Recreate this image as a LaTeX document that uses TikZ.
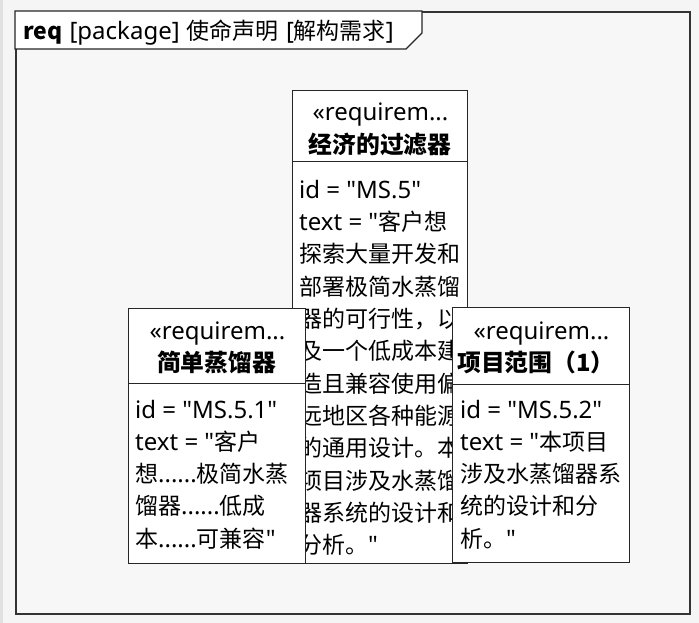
\documentclass[tikz,border=0pt]{standalone}
\usepackage{fontspec}
\setmainfont{Noto Sans CJK SC}[Ligatures=TeXOff]
\newfontfamily\latf{Noto Sans}[Ligatures=TeXOff]
\newcommand\latx[1]{{\latf\fontsize{24}{28}\selectfont #1}}
\newcommand\hlatx[1]{{\latf\fontsize{24}{26}\selectfont #1}}
\begin{document}
\begin{tikzpicture}[x=1pt,y=-1pt,
  reqbox/.style={draw=black!85,line width=1pt,fill=white,anchor=north west,inner sep=0pt},
  divline/.style={draw=black!85,line width=1pt},
  stereo/.style={anchor=base,inner sep=0pt,font=\fontsize{22}{26}\selectfont},
  rtitle/.style={anchor=base,inner sep=0pt,font=\fontsize{23.8}{26}\selectfont\bfseries},
  bodyline/.style={anchor=base west,inner sep=0pt,font=\fontsize{23}{28}\selectfont},
  hdr/.style={anchor=base west,inner sep=0pt,font=\fontsize{23}{26}\selectfont}]
\useasboundingbox (0,0) rectangle (699,623);
\fill[black!4] (0,0) rectangle (699,623);
\fill[black!12] (0,0) rectangle (3,623);
% outer frame
\node[draw=black!80,line width=1.6pt,fill=black!3,anchor=north west,minimum width=674pt,minimum height=602pt,inner sep=0pt] (frame) at (15,11) {};
% header tab
\coordinate (tabA) at (422,11);
\coordinate (tabB) at (422,33);
\coordinate (tabC) at (406,49);
\coordinate (tabD) at (15,49);
\filldraw[fill=white,draw=black!85,line width=1.2pt] (frame.north west) -- (tabA) -- (tabB) -- (tabC) -- (tabD) -- cycle;
\node[hdr] (hdrtext) at (23,39.5) {{\bfseries req}\hspace{2pt} \hlatx{[package]}\hspace{2pt} 使命声明\hspace{2pt} \hlatx{[}解构需求\hlatx{]}};

% MS.5 box
\node[reqbox,minimum width=175pt,minimum height=473pt] (ms5) at (292,90) {};
\draw[divline] ([yshift=-72pt]ms5.north west) coordinate (ms5dl) -- ([yshift=-72pt]ms5.north east) coordinate (ms5dr);
\node[stereo] (ms5s) at (380.5,121) {\latx{«requirem...}};
\node[rtitle] (ms5t) at (380,153.5) {经济的过滤器};
\foreach \t [count=\i] in {{\latx{id = "MS.5"}},{\latx{text = "}客户想},探索大量开发和,部署极简水蒸馏,器的可行性，以,及一个低成本建,造且兼容使用偏,远地区各种能源,的通用设计。本,项目涉及水蒸馏,器系统的设计和,{分析。\latx{"}}}
  \node[bodyline] (ms5b\i) at (299,{198+32.35*(\i-1)}) {\t};

% MS.5.1 box
\node[reqbox,minimum width=177pt,minimum height=255pt] (ms51) at (128,308) {};
\draw[divline] ([yshift=-75pt]ms51.north west) coordinate (ms51dl) -- ([yshift=-75pt]ms51.north east) coordinate (ms51dr);
\node[stereo] (ms51s) at (217.5,339) {\latx{«requirem...}};
\node[rtitle] (ms51t) at (216.5,371.5) {简单蒸馏器};
\foreach \t [count=\i] in {{\latx{id = "MS.5.1"}},{\latx{text = "}客户},{想\latx{......}极简水蒸},{馏器\latx{......}低成},{本\latx{......}可兼容\latx{"}}}
  \node[bodyline] (ms51b\i) at (135,{418+32.3*(\i-1)}) {\t};

% MS.5.2 box
\node[reqbox,minimum width=177pt,minimum height=255pt] (ms52) at (452,307) {};
\draw[divline] ([yshift=-77pt]ms52.north west) coordinate (ms52dl) -- ([yshift=-77pt]ms52.north east) coordinate (ms52dr);
\node[stereo] (ms52s) at (541.5,339) {\latx{«requirem...}};
\node[rtitle] (ms52t) at (536,371.5) {项目范围（1）};
\foreach \t [count=\i] in {{\latx{id = "MS.5.2"}},{\latx{text = "}本项目},涉及水蒸馏器系,统的设计和分,{析。\latx{"}}}
  \node[bodyline] (ms52b\i) at (460,{418+32.3*(\i-1)}) {\t};
\end{tikzpicture}
\end{document}
